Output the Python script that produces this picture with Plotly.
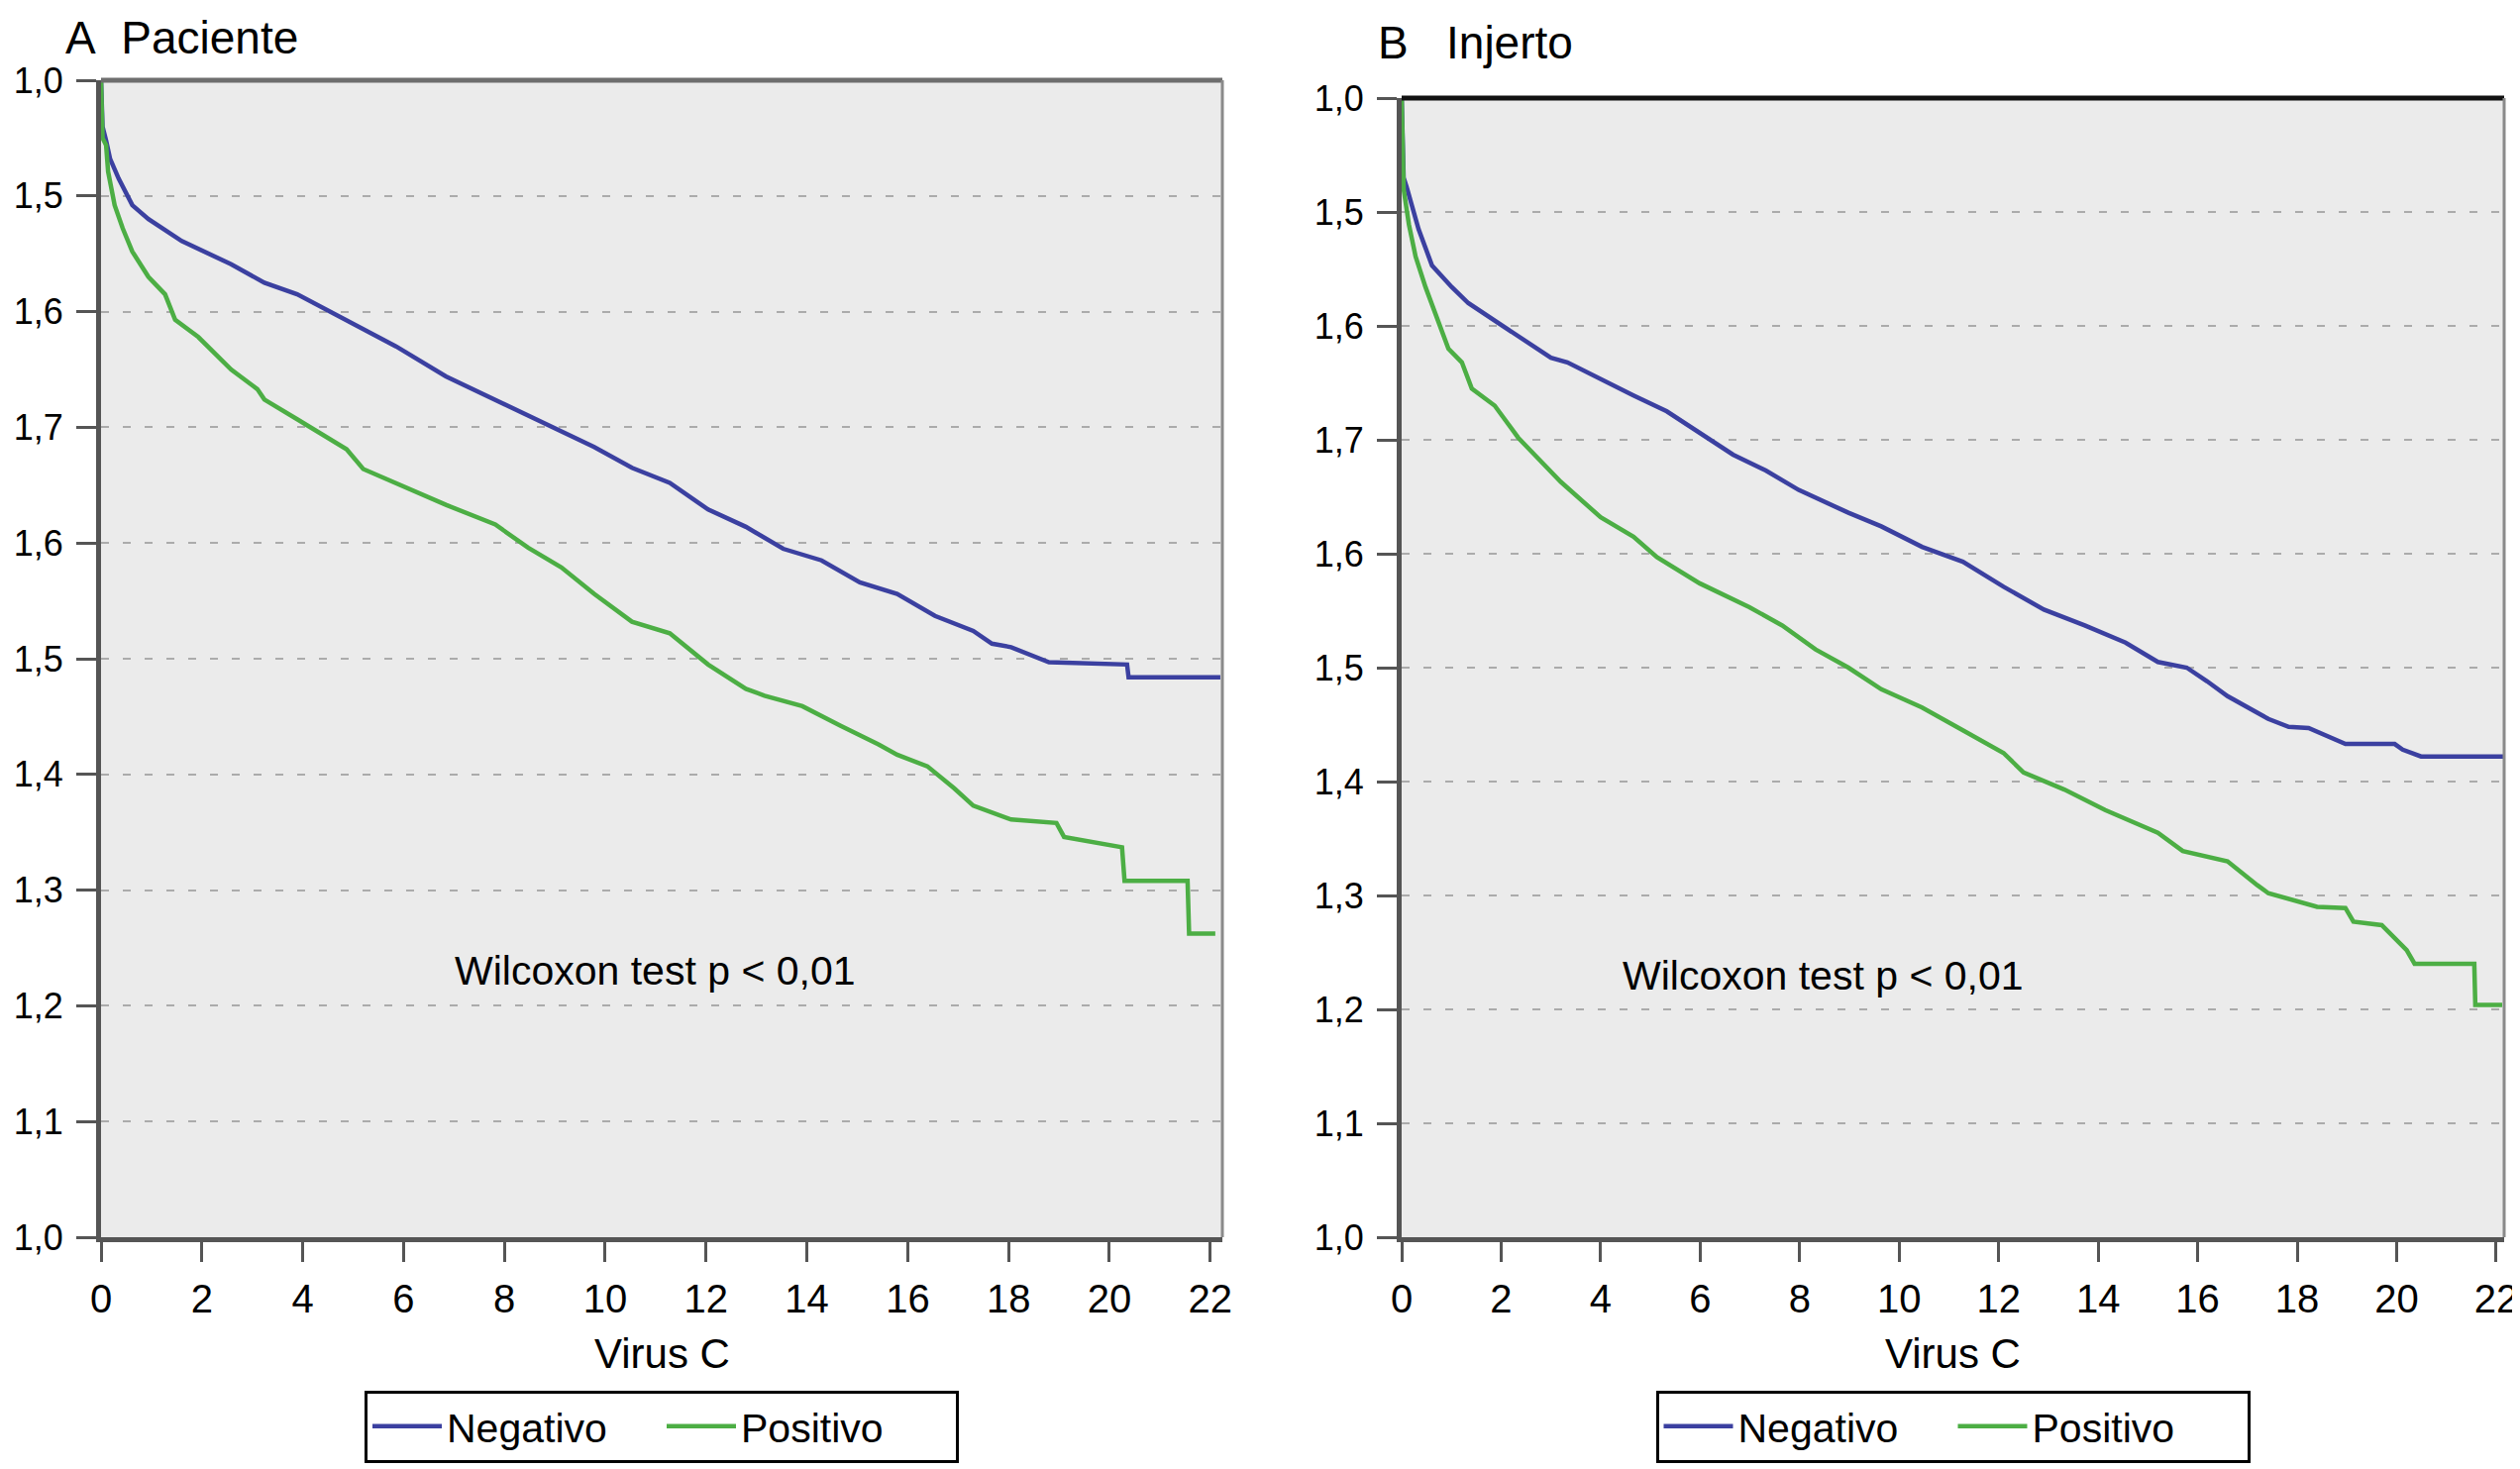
import plotly.graph_objects as go

# ---------------- data ----------------
y_tickvals = [1.0, 0.9, 0.8, 0.7, 0.6, 0.5, 0.4, 0.3, 0.2, 0.1, 0.0]
y_ticktext = ["1,0", "1,5", "1,6", "1,7", "1,6", "1,5", "1,4", "1,3", "1,2", "1,1", "1,0"]
x_tickvals = [0, 2, 4, 6, 8, 10, 12, 14, 16, 18, 20, 22]

# Panel A - Paciente
A_neg_t = [0, 0.03, 0.10, 0.18, 0.35, 0.62, 0.94, 1.60, 2.58, 3.24, 3.89, 4.87, 5.85, 6.84, 7.82, 8.80,
           9.78, 10.53, 11.28, 12.04, 12.79, 13.53, 14.29, 15.05, 15.79, 16.54, 17.30, 17.67, 18.05, 18.80,
           19.93, 20.35, 20.38, 22.2]
A_neg_s = [1.0, 0.96, 0.948, 0.932, 0.915, 0.892, 0.880, 0.861, 0.841, 0.825, 0.815, 0.793, 0.770, 0.744,
           0.724, 0.704, 0.683, 0.665, 0.652, 0.629, 0.614, 0.595, 0.585, 0.566, 0.556, 0.537, 0.524, 0.513,
           0.510, 0.497, 0.495, 0.495, 0.484, 0.484]
A_pos_t = [0, 0.03, 0.10, 0.14, 0.27, 0.43, 0.62, 0.94, 1.27, 1.47, 1.93, 2.58, 3.10, 3.24, 3.89, 4.87,
           5.20, 5.85, 6.84, 7.82, 8.47, 9.13, 9.78, 10.53, 11.28, 12.04, 12.79, 13.16, 13.91, 14.67, 15.42,
           15.79, 16.39, 16.92, 17.30, 18.05, 18.95, 19.10, 19.78, 20.25, 20.30, 21.55, 21.58, 22.10]
A_pos_s = [1.0, 0.95, 0.944, 0.921, 0.892, 0.872, 0.852, 0.830, 0.815, 0.793, 0.778, 0.750, 0.733, 0.724,
           0.707, 0.681, 0.664, 0.652, 0.633, 0.616, 0.596, 0.579, 0.556, 0.532, 0.522, 0.495, 0.474, 0.468,
           0.459, 0.442, 0.426, 0.417, 0.407, 0.388, 0.373, 0.361, 0.358, 0.346, 0.341, 0.337, 0.308, 0.308,
           0.2625, 0.2625]

# Panel B - Injerto
B_neg_t = [0, 0.04, 0.10, 0.21, 0.34, 0.61, 1.01, 1.34, 1.87, 2.34, 3.00, 3.33, 4.00, 4.66, 5.33, 5.99,
           6.66, 7.32, 7.98, 8.98, 9.64, 10.46, 11.28, 12.10, 12.91, 13.73, 14.55, 15.20, 15.78, 16.19, 16.60,
           17.42, 17.83, 18.23, 18.97, 19.96, 20.12, 20.49, 22.16]
B_neg_s = [1.0, 0.93, 0.922, 0.904, 0.885, 0.853, 0.834, 0.820, 0.805, 0.791, 0.772, 0.768, 0.753, 0.739,
           0.725, 0.706, 0.687, 0.673, 0.656, 0.636, 0.624, 0.606, 0.593, 0.571, 0.551, 0.537, 0.522, 0.505,
           0.500, 0.488, 0.475, 0.455, 0.448, 0.447, 0.433, 0.433, 0.428, 0.422, 0.422]
B_pos_t = [0, 0.04, 0.146, 0.28, 0.48, 0.74, 0.94, 1.21, 1.41, 1.87, 2.34, 2.67, 3.20, 4.00, 4.66, 5.13,
           5.99, 6.99, 7.65, 8.32, 8.98, 9.64, 10.46, 11.28, 12.10, 12.50, 13.32, 14.14, 15.20, 15.70, 16.60,
           17.20, 17.42, 18.40, 18.97, 19.13, 19.70, 20.20, 20.36, 21.56, 21.58, 22.12]
B_pos_s = [1.0, 0.92, 0.889, 0.861, 0.834, 0.803, 0.780, 0.768, 0.745, 0.730, 0.702, 0.687, 0.663, 0.632,
           0.615, 0.597, 0.574, 0.553, 0.537, 0.516, 0.500, 0.481, 0.465, 0.445, 0.425, 0.408, 0.393, 0.375,
           0.355, 0.339, 0.330, 0.309, 0.302, 0.290, 0.289, 0.277, 0.274, 0.252, 0.240, 0.240, 0.204, 0.204]

series_names = ["Negativo", "Positivo"]
panel_titles = ["A\u00a0\u00a0Paciente", "B\u00a0\u00a0\u00a0Injerto"]
x_title = "Virus C"
test_text = "Wilcoxon test p < 0,01"

# ---------------- style / geometry ----------------
PAGE_W, PAGE_H = 2544, 1483
OFF = 8                      # default body margin of the html page
FW, FH = PAGE_W - OFF, PAGE_H - OFF

def fx(px):                  # page pixel -> paper fraction
    return (px - OFF) / FW

def fy(py):
    return 1 - (py - OFF) / FH

BLUE = "#3B40A0"
GREEN = "#4CAE44"
NARROW = "Liberation Sans Narrow, Arial Narrow, Liberation Sans, sans-serif"
SANS = "Liberation Sans, Arial, sans-serif"

fig = go.Figure()
fig.add_trace(go.Scatter(x=A_neg_t, y=A_neg_s, mode="lines", name=series_names[0],
                         line=dict(color=BLUE, width=4.5), xaxis="x", yaxis="y", legend="legend"))
fig.add_trace(go.Scatter(x=A_pos_t, y=A_pos_s, mode="lines", name=series_names[1],
                         line=dict(color=GREEN, width=4.5), xaxis="x", yaxis="y", legend="legend"))
fig.add_trace(go.Scatter(x=B_neg_t, y=B_neg_s, mode="lines", name=series_names[0],
                         line=dict(color=BLUE, width=4.5), xaxis="x2", yaxis="y2", legend="legend2"))
fig.add_trace(go.Scatter(x=B_pos_t, y=B_pos_s, mode="lines", name=series_names[1],
                         line=dict(color=GREEN, width=4.5), xaxis="x2", yaxis="y2", legend="legend2"))

def xaxis_style(domain, rng, anchor):
    return dict(domain=domain, range=rng, anchor=anchor, tickvals=x_tickvals, automargin=False,
                ticks="outside", ticklen=20, tickwidth=3, tickcolor="#555",
                showline=True, linecolor="#555", linewidth=5,
                showgrid=False, zeroline=False, ticklabelstandoff=3,
                tickfont=dict(family=NARROW, size=40, color="black"))

def yaxis_style(domain, anchor):
    return dict(domain=domain, range=[0, 1], anchor=anchor, tickvals=y_tickvals, ticktext=y_ticktext,
                automargin=False,
                ticks="outside", ticklen=20, tickwidth=3, tickcolor="#555",
                showline=True, linecolor="#555", linewidth=5,
                showgrid=True, gridcolor="#ABABAB", gridwidth=2, griddash="8px,14px",
                zeroline=False, ticklabelstandoff=6,
                tickfont=dict(family=SANS, size=36, color="black"))

xA = [fx(102), fx(1234)]
yA = [fy(1249), fy(81)]
xB = [fx(1415), fx(2528)]
yB = [fy(1249), fy(99)]

shapes = [
    dict(type="line", xref="x domain", yref="y domain", x0=0, x1=1, y0=1, y1=1,
         line=dict(color="#6E6E6E", width=5)),
    dict(type="line", xref="x domain", yref="y domain", x0=1, x1=1, y0=0, y1=1,
         line=dict(color="#8A8A8A", width=3)),
    dict(type="line", xref="x2 domain", yref="y2 domain", x0=0, x1=1, y0=1, y1=1,
         line=dict(color="#111111", width=5)),
    dict(type="line", xref="x2 domain", yref="y2 domain", x0=1, x1=1, y0=0, y1=1,
         line=dict(color="#8A8A8A", width=3)),
]

annotations = [
    dict(text=panel_titles[0], xref="paper", yref="paper", x=fx(64), y=fy(38),
         xanchor="left", yanchor="middle", showarrow=False,
         font=dict(family=SANS, size=46, color="black")),
    dict(text=panel_titles[1], xref="paper", yref="paper", x=fx(1389), y=fy(43),
         xanchor="left", yanchor="middle", showarrow=False,
         font=dict(family=SANS, size=46, color="black")),
    dict(text=x_title, xref="paper", yref="paper", x=(xA[0] + xA[1]) / 2, y=fy(1366),
         xanchor="center", yanchor="middle", showarrow=False,
         font=dict(family=NARROW, size=42, color="black")),
    dict(text=x_title, xref="paper", yref="paper", x=(xB[0] + xB[1]) / 2, y=fy(1366),
         xanchor="center", yanchor="middle", showarrow=False,
         font=dict(family=NARROW, size=42, color="black")),
    dict(text=test_text, xref="x", yref="y", x=11.0, y=0.23,
         xanchor="center", yanchor="middle", showarrow=False,
         font=dict(family=SANS, size=41, color="black")),
    dict(text=test_text, xref="x2", yref="y2", x=8.47, y=0.23,
         xanchor="center", yanchor="middle", showarrow=False,
         font=dict(family=SANS, size=41, color="black")),
]

legend_common = dict(orientation="h", xanchor="center", yanchor="middle",
                     bordercolor="black", borderwidth=3, bgcolor="white",
                     font=dict(family=NARROW, size=41, color="black"),
                     itemwidth=70, entrywidth=212, entrywidthmode="pixels", tracegroupgap=0)

fig.update_layout(
    width=FW, height=FH,
    margin=dict(l=0, r=0, t=0, b=0, autoexpand=False),
    paper_bgcolor="white",
    plot_bgcolor="#EBEBEB",
    showlegend=True,
    xaxis=xaxis_style(xA, [0, 22.24], "y"),
    yaxis=yaxis_style(yA, "x"),
    xaxis2=xaxis_style(xB, [0, 22.16], "y2"),
    yaxis2=yaxis_style(yB, "x2"),
    shapes=shapes,
    annotations=annotations,
    legend=dict(x=(xA[0] + xA[1]) / 2, y=fy(1440), **legend_common),
    legend2=dict(x=(xB[0] + xB[1]) / 2, y=fy(1440), **legend_common),
)

fig.write_html("out.html")
